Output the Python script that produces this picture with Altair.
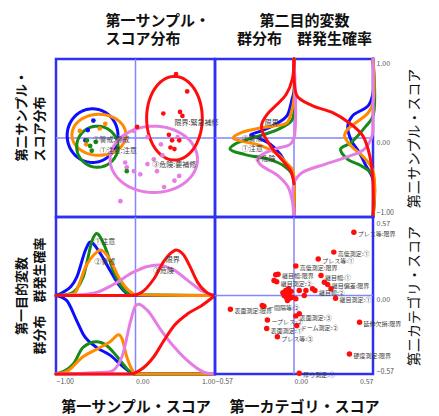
import altair as alt
import numpy as np
import pandas as pd

FONT = "Noto Sans CJK JP"
DRAW_ORDER = ["blue", "green", "orange", "violet", "red"]
PALETTE = {"blue": "#0d0dff", "green": "#178a17", "orange": "#ff8c00",
           "violet": "#e47ee4", "red": "#ff0d0d"}
FRAME = "#3030f0"
GRID = "#8585ff"
LW = 3

# ---------------- panel A : first/second sample score scatter ----------------
ell_group = ["blue", "orange", "green", "violet", "red"]
ell_cx = [-0.54, -0.46, -0.48, 0.23, 0.49]
ell_cy = [0.03, 0.04, -0.11, -0.27, 0.25]
ell_rx = [0.32, 0.34, 0.26, 0.55, 0.35]
ell_ry = [0.34, 0.26, 0.26, 0.42, 0.53]

sample_red_x = [0.51, 0.65, 0.35, 0.56, 0.59, 0.42, 0.46, 0.55, 0.44, 0.49, 0.02]
sample_red_y = [0.81, 0.59, 0.31, 0.33, 0.28, 0.04, -0.03, -0.03, -0.12, -0.14, 0.14]
sample_violet_x = [-0.19, 0.36, 0.49, 0.55, 0.27, 0.06, -0.02, -0.13, -0.11, 0.15,
                   0.23, 0.34, 0.32, 0.53, -0.02, 0.15, -0.15]
sample_violet_y = [-0.80, -0.62, -0.54, -0.48, -0.42, -0.46, -0.42, -0.31, -0.37, -0.33,
                   -0.27, -0.22, -0.08, 0.01, 0.09, 0.01, -0.03]
sample_green_x = [-0.11, -0.57, -0.61, -0.55, -0.50]
sample_green_y = [-0.42, -0.10, -0.03, -0.16, -0.05]
sample_blue_x = [-0.53, -0.63, -0.60]
sample_blue_y = [0.22, -0.03, 0.10]
sample_orange_x = [-0.70, -0.38, -0.62, -0.45]
sample_orange_y = [0.09, 0.18, -0.08, 0.12]

lab_a_text = ["限界:緊急補修", "②警戒:警戒", "①注意:注意", "③危険:要補修"]
lab_a_x = [0.49, -0.54, -0.45, 0.21]
lab_a_y = [0.19, -0.03, -0.17, -0.34]

# ---------------- panel B : second objective variable (along 2nd sample score) -------
# group distribution (density) : (second sample score, density)
b_dens = {
    "blue":   [(1, 0), (0.6, 0), (0.47, 0.03), (0.28, 0.09), (0.17, 0.24), (0.09, 0.41),
               (0.04, 0.55), (0.0, 0.45), (-0.08, 0.30), (-0.20, 0.18), (-0.31, 0.11),
               (-0.43, 0.03), (-0.55, 0), (-1, 0)],
    "green":  [(1, 0), (0.35, 0), (0.22, 0.03), (0.11, 0.20), (0.0, 0.53), (-0.08, 0.75),
               (-0.14, 0.81), (-0.21, 0.62), (-0.27, 0.32), (-0.35, 0.13), (-0.45, 0.03),
               (-0.55, 0), (-1, 0)],
    "orange": [(1, 0), (0.5, 0), (0.34, 0.03), (0.19, 0.09), (0.16, 0.20), (0.13, 0.41),
               (0.07, 0.66), (0.0, 0.77), (-0.04, 0.66), (-0.10, 0.41), (-0.21, 0.20),
               (-0.32, 0.09), (-0.40, 0.02), (-0.5, 0), (-1, 0)],
    "violet": [(1, 0), (0.0, 0), (-0.08, 0.05), (-0.14, 0.24), (-0.22, 0.42), (-0.28, 0.46),
               (-0.35, 0.41), (-0.48, 0.20), (-0.63, 0.07), (-0.76, 0.03), (-0.9, 0), (-1, 0)],
    "red":    [(1, 0), (0.75, 0.02), (0.55, 0.10), (0.42, 0.22), (0.30, 0.34), (0.17, 0.41),
               (0.08, 0.40), (0.0, 0.36), (-0.14, 0.27), (-0.29, 0.14), (-0.42, 0.04),
               (-0.58, 0)],
}
# group occurrence probability : (second sample score, probability)
b_prob = {
    "blue":   [(1, 0), (0.57, 0), (0.41, 0.06), (0.28, 0.26), (0.15, 0.32), (-0.02, 0.28),
               (-0.19, 0.17), (-0.35, 0.09), (-0.52, 0), (-1, 0)],
    "green":  [(1, 0), (0.28, 0), (0.15, 0.09), (-0.06, 0.28), (-0.14, 0.41), (-0.27, 0.32),
               (-0.35, 0.15), (-0.48, 0), (-1, 0)],
    "orange": [(1, 0), (0.45, 0), (0.32, 0.06), (0.11, 0.32), (0.03, 0.36), (-0.10, 0.28),
               (-0.23, 0.13), (-0.42, 0), (-1, 0)],
    "violet": [(1, 0), (0.2, 0), (0.03, 0.01), (-0.14, 0.11), (-0.23, 0.30), (-0.33, 0.60),
               (-0.44, 0.90), (-0.57, 1), (-1, 1)],
    "red":    [(1, 1), (0.78, 1), (0.53, 0.96), (0.41, 0.77), (0.32, 0.51), (0.19, 0.30),
               (0.03, 0.13), (-0.23, 0.04), (-0.56, 0), (-1, 0)],
}
lab_b_text = ["限界", "②警戒", "①注意", "③危険"]
lab_b_x = [-0.37, -0.66, -0.66, -0.50]
lab_b_y = [0.19, -0.01, -0.14, -0.27]

# ---------------- panel C : first objective variable (along 1st sample score) --------
c_dens = {
    "blue":   [(-1, 0), (-0.91, 0.04), (-0.74, 0.23), (-0.62, 0.60), (-0.57, 0.68), (-0.44, 0.53),
               (-0.32, 0.32), (-0.19, 0.11), (-0.08, 0.01), (0, 0), (1, 0)],
    "green":  [(-1, 0), (-0.83, 0.02), (-0.66, 0.23), (-0.53, 0.74), (-0.49, 0.79), (-0.38, 0.61),
               (-0.28, 0.32), (-0.15, 0.08), (-0.04, 0.01), (1, 0)],
    "orange": [(-1, 0), (-0.78, 0.02), (-0.61, 0.40), (-0.49, 0.55), (-0.44, 0.58), (-0.34, 0.49),
               (-0.21, 0.23), (-0.08, 0.06), (0, 0.01), (1, 0)],
    "violet": [(-1, 0), (-0.70, 0.01), (-0.49, 0.04), (-0.28, 0.14), (-0.02, 0.30), (0.15, 0.37),
               (0.28, 0.39), (0.49, 0.32), (0.66, 0.19), (0.83, 0.06), (1, 0)],
    "red":    [(-1, 0), (-0.06, 0), (0.06, 0.03), (0.23, 0.21), (0.36, 0.44), (0.47, 0.56),
               (0.51, 0.58), (0.61, 0.51), (0.68, 0.38), (0.78, 0.17), (0.91, 0.03), (1, 0)],
}
c_prob = {
    "blue":   [(-1, 1), (-0.87, 0.94), (-0.74, 0.68), (-0.66, 0.51), (-0.49, 0.34), (-0.32, 0.24),
               (-0.15, 0.09), (-0.02, 0), (1, 0)],
    "green":  [(-1, 0), (-0.78, 0.13), (-0.66, 0.34), (-0.49, 0.41), (-0.36, 0.36), (-0.23, 0.22),
               (-0.11, 0.07), (-0.02, 0), (1, 0)],
    "orange": [(-1, 0), (-0.87, 0.03), (-0.66, 0.22), (-0.44, 0.34), (-0.32, 0.41), (-0.21, 0.50),
               (-0.17, 0.45), (-0.11, 0.22), (-0.04, 0.05), (0, 0), (1, 0)],
    "violet": [(-1, 0), (-0.32, 0.03), (-0.17, 0.22), (-0.06, 0.68), (0, 0.87), (0.04, 0.89),
               (0.15, 0.81), (0.32, 0.56), (0.49, 0.34), (0.70, 0.13), (0.87, 0.02), (1, 0)],
    "red":    [(-1, 0), (-0.06, 0), (0.06, 0.05), (0.23, 0.22), (0.36, 0.43), (0.49, 0.62),
               (0.66, 0.77), (0.83, 0.87), (1, 1)],
}
lab_c_text = ["①注意", "②警戒", "限界", "③危険"]
lab_c_x = [-0.52, -0.52, 0.38, 0.22]
lab_c_y = [0.68, 0.43, 0.45, 0.31]

# ---------------- panel D : category scores ----------------
cat_x = [0.432, 0.287, 0.175, 0.013, -0.115, -0.125, 0.195, 0.243, 0.151, 0.300,
         -0.459, -0.217, 0.013, 0.020, -0.192, 0.473, -0.197, -0.120, 0.400, 0.038,
         -0.132, -0.144, -0.060, -0.035, -0.071, -0.011, 0.013, -0.047, 0.038, 0.086,
         0.074, 0.134, 0.219, 0.267, -0.229, 0.038, -0.050, -0.030, -0.060, -0.020,
         -0.040, -0.080, -0.055]
cat_y = [0.460, 0.315, 0.265, 0.215, 0.155, 0.100, 0.145, 0.080, 0.036, -0.020,
         -0.100, -0.078, -0.148, -0.218, -0.178, -0.194, -0.240, -0.300, -0.424, -0.564,
         0.150, 0.109, 0.036, 0.012, 0.0, -0.012, -0.024, -0.036, 0.036, 0.036,
         0.0, 0.049, 0.097, 0.049, -0.073, -0.133, 0.020, -0.020, 0.010, 0.030,
         0.050, 0.020, -0.015]
cat_label = ["プレス等:限界", "高低測定:①", "プレス等:①", "高低測定:限界", "継目幅:限界",
             "継目測定:②", "継目幅:①", "継目偏差:限界", "継目幅:②", "継目測定:①",
             "表面測定:限界", "ー間隔等:②", "表面測定:③", "ドーム測定:②", "ープレス:②",
             "延伸欠損:限界", "表面測定:①", "プレス等:③", "硬度測定:限界", "厚り測定:①",
             "", "", "", "", "", "", "", "", "", "",
             "", "", "", "", "", "", "", "", "", "",
             "", "", ""]


# ---------------- helpers ----------------
def xenc(dom, axis):
    return alt.X("x:Q", scale=alt.Scale(domain=dom, nice=False, zero=False), axis=axis)


def yenc(dom, axis):
    return alt.Y("y:Q", scale=alt.Scale(domain=dom, nice=False, zero=False), axis=axis)


def rules(dom_x, dom_y, ax, ay):
    v = alt.Chart(pd.DataFrame({"x": [0]})).mark_rule(color=GRID, strokeWidth=1.5).encode(
        x=xenc(dom_x, ax))
    h = alt.Chart(pd.DataFrame({"y": [0]})).mark_rule(color=GRID, strokeWidth=1.5).encode(
        y=yenc(dom_y, ay))
    return [v, h]


def labels(texts, xs, ys, dom_x, dom_y, ax, ay, size=7.5, dx=0, dy=0):
    df = pd.DataFrame({"x": xs, "y": ys, "t": texts})
    return alt.Chart(df).mark_text(align="left", baseline="middle", font=FONT, fontSize=size,
                                   color="#3a3a3a", dx=dx, dy=dy).encode(
        x=xenc(dom_x, ax), y=yenc(dom_y, ay), text="t:N")


def curve(pairs, g, first, second, calc, dom_x, dom_y, ax, ay, interp):
    df = pd.DataFrame(pairs, columns=[first, second])
    df["i"] = range(len(df))
    ch = alt.Chart(df)
    for name, expr in calc.items():
        ch = ch.transform_calculate(**{name: expr})
    return ch.mark_line(color=PALETTE[g], strokeWidth=LW, interpolate=interp,
                        strokeCap="round", strokeJoin="round").encode(
        x=xenc(dom_x, ax), y=yenc(dom_y, ay), order="i:Q")


def noaxis(orient, title, **kw):
    return alt.Axis(orient=orient, labels=False, ticks=False, domain=False, grid=False,
                    title=title, **kw)


def valaxis(orient, title, values, **kw):
    return alt.Axis(orient=orient, values=values, format=".2f", ticks=False, domain=False,
                    grid=False, labelFontSize=7, labelColor="#555", title=title, **kw)


ALIGN_BOTTOM = {"condition": {"test": "datum.value > 0.5", "value": "right"}, "value": "left"}
BASE_RIGHT = {"condition": {"test": "datum.value < -0.5", "value": "bottom"}, "value": "top"}
OFFSET_B = {"condition": {"test": "datum.value < -0.5", "value": -2}, "value": 0}
OFFSET_D = {"condition": {"test": "datum.value > 0.5", "value": 2}, "value": 0}

D1 = [-1, 1]
D2 = [-0.57, 0.57]

# ---------------- panel A ----------------
axA_x = noaxis("top", ["第一サンプル・", "スコア分布"], titleFontSize=15, titleFontWeight="bold",
               titlePadding=13, titleAlign="left", titleX=49, titleLineHeight=18)
axA_y = noaxis("left", ["第二サンプル・", "スコア分布"], titleFontSize=13, titleFontWeight="bold",
               titlePadding=10, titleAlign="left", titleY=102, titleLineHeight=18)
layersA = rules(D1, D1, axA_x, axA_y)
t = np.linspace(0, 2 * np.pi, 91)
for g, cx, cy, rx, ry in zip(ell_group, ell_cx, ell_cy, ell_rx, ell_ry):
    edf = pd.DataFrame({"x": cx + rx * np.cos(t), "y": cy + ry * np.sin(t), "i": range(len(t))})
    layersA.append(alt.Chart(edf).mark_line(color=PALETTE[g], strokeWidth=LW).encode(
        x=xenc(D1, axA_x), y=yenc(D1, axA_y), order="i:Q"))
pts = []
for g, xs, ys in [("violet", sample_violet_x, sample_violet_y), ("blue", sample_blue_x, sample_blue_y),
                  ("orange", sample_orange_x, sample_orange_y), ("green", sample_green_x, sample_green_y),
                  ("red", sample_red_x, sample_red_y)]:
    pts += [{"x": a, "y": b, "g": g} for a, b in zip(xs, ys)]
layersA.append(alt.Chart(pd.DataFrame(pts)).mark_circle(size=22, opacity=1).encode(
    x=xenc(D1, axA_x), y=yenc(D1, axA_y),
    color=alt.Color("g:N", scale=alt.Scale(domain=list(PALETTE), range=list(PALETTE.values())),
                    legend=None)))
layersA.append(labels(lab_a_text, lab_a_x, lab_a_y, D1, D1, axA_x, axA_y, size=7))
panelA = alt.layer(*layersA).properties(width=159, height=158)

# ---------------- panel B ----------------
axB_x = noaxis("top", ["第二目的変数", "群分布　群発生確率"], titleFontSize=15, titleFontWeight="bold",
               titlePadding=13, titleX=89, titleLineHeight=18)
axB_y = valaxis("right", "第二サンプル・スコア", [-1, 0, 1], labelBaseline=BASE_RIGHT, labelPadding=3,
                labelOffset=OFFSET_B, titleFontSize=14, titleFontWeight="normal", titleAngle=270,
                titleBaseline="top", titlePadding=14)
layersB = rules(D1, D1, axB_x, axB_y)
for g in DRAW_ORDER:
    layersB.append(curve(b_dens[g], g, "y", "d", {"x": "-datum.d"}, D1, D1, axB_x, axB_y,
                         "catmull-rom"))
    layersB.append(curve(b_prob[g], g, "y", "p", {"x": "1 - datum.p"}, D1, D1, axB_x, axB_y,
                         "catmull-rom"))
layersB.append(labels(lab_b_text, lab_b_x, lab_b_y, D1, D1, axB_x, axB_y, size=7))
panelB = alt.layer(*layersB).properties(width=158, height=158)

# ---------------- panel C ----------------
axC_x = valaxis("bottom", "第一サンプル・スコア", [-1, 0, 1], labelAlign=ALIGN_BOTTOM, labelPadding=3,
                titleFontSize=15, titleFontWeight="bold", titlePadding=15)
axC_y = noaxis("left", ["第一目的変数", "群分布　群発生確率"], titleFontSize=13, titleFontWeight="bold",
               titlePadding=10, titleLineHeight=18)
layersC = rules(D1, D1, axC_x, axC_y)
for g in DRAW_ORDER:
    layersC.append(curve(c_dens[g], g, "x", "y", {}, D1, D1, axC_x, axC_y, "monotone"))
    layersC.append(curve(c_prob[g], g, "x", "p", {"y": "datum.p - 1"}, D1, D1, axC_x, axC_y,
                         "monotone"))
layersC.append(labels(lab_c_text, lab_c_x, lab_c_y, D1, D1, axC_x, axC_y, size=7))
panelC = alt.layer(*layersC).properties(width=159, height=157)

# ---------------- panel D ----------------
axD_x = valaxis("bottom", "第一カテゴリ・スコア", [-0.57, 0, 0.57], labelAlign=ALIGN_BOTTOM,
                labelPadding=3, titleFontSize=15, titleFontWeight="bold", titlePadding=15, titleX=89)
axD_y = valaxis("right", "第二カテゴリ・スコア", [-0.57, 0, 0.57], labelBaseline=BASE_RIGHT,
                labelPadding=3, labelOffset=OFFSET_D, titleFontSize=14, titleFontWeight="normal",
                titleAngle=270, titleBaseline="top", titlePadding=14)
layersD = rules(D2, D2, axD_x, axD_y)
ddf = pd.DataFrame({"x": cat_x, "y": cat_y})
layersD.append(alt.Chart(ddf).mark_circle(size=30, opacity=1, color=PALETTE["red"]).encode(
    x=xenc(D2, axD_x), y=yenc(D2, axD_y)))
layersD.append(labels(cat_label, cat_x, cat_y, D2, D2, axD_x, axD_y, size=6, dx=4, dy=2))
panelD = alt.layer(*layersD).properties(width=158, height=157)

chart = alt.concat(panelA, panelB, panelC, panelD, columns=2, spacing=0, bounds="flush").configure_view(
    stroke=FRAME, strokeWidth=2.5).configure_axis(
    labelFont=FONT, titleFont=FONT, titleColor="#111").properties(
    padding={"left": 5, "top": 3, "right": 5, "bottom": 0})

chart.save("out.html", embed_options={"renderer": "svg", "actions": False})
